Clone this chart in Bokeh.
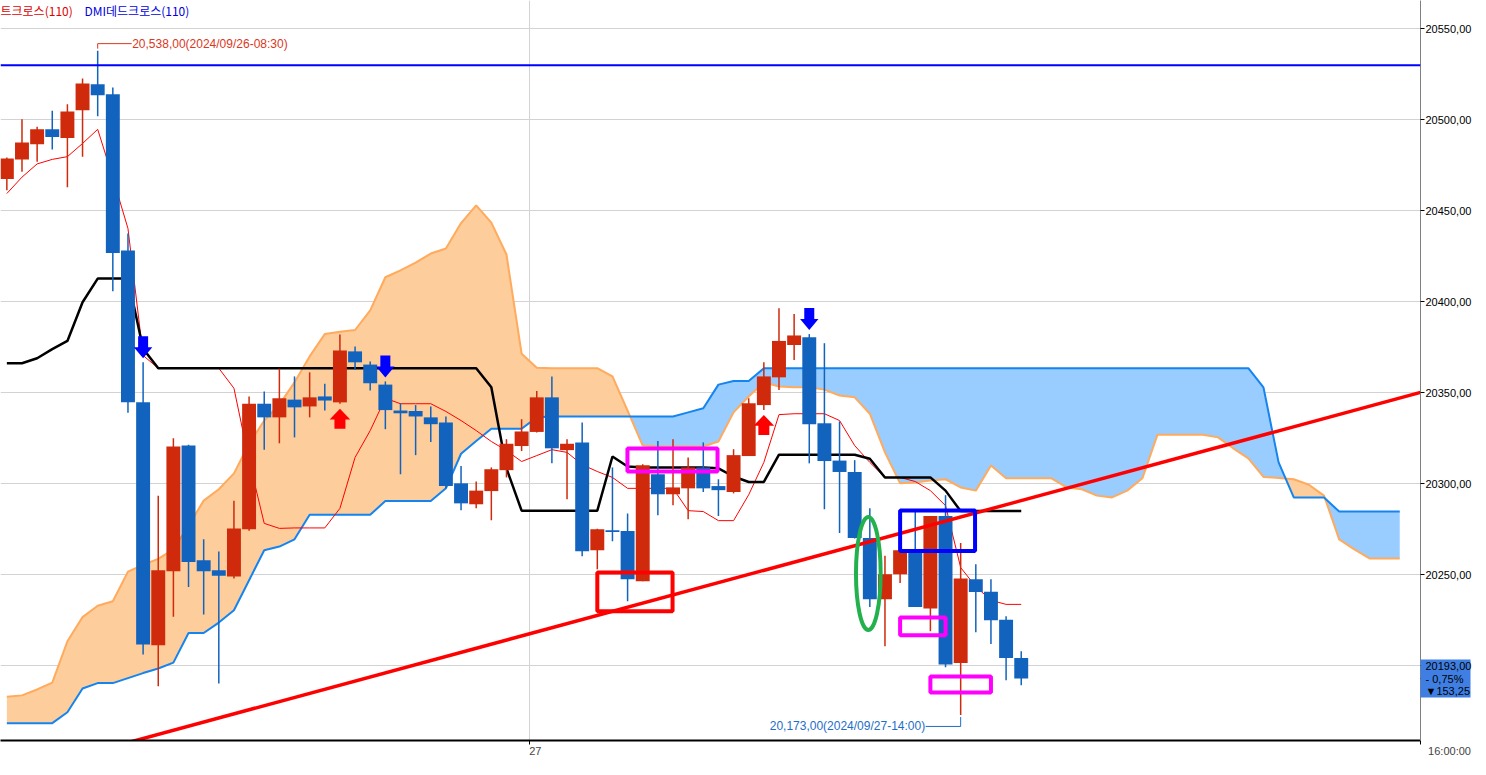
import numpy as np
from bokeh.plotting import figure
from bokeh.models import Range1d, FixedTicker, Label, Span, ColumnDataSource
from bokeh.embed import file_html
from bokeh.resources import INLINE

# ---------------- data (30-minute candles, index = bar number) ----------------
opens = [20467.5, 20478.25, 20486.5, 20494.75, 20490, 20505.25, 20519.5, 20514, 20428.25, 20344.75,
         20211.25, 20252, 20321, 20258, 20252.5, 20249, 20275, 20344, 20336.5, 20346.25,
         20342.5, 20348, 20344.75, 20372.75, 20365.5, 20354.5, 20340.25, 20340, 20336.5, 20333.75,
         20300.25, 20288.75, 20296, 20307.5, 20320.75, 20328.5, 20347.5, 20318.5, 20322.75, 20263.5,
         20274.5, 20274, 20246.5, 20305.25, 20294.25, 20297.5, 20309, 20298.75, 20295.5, 20315.25,
         20343.25, 20358.5, 20376.25, 20380.5, 20333.25, 20312.75, 20306.5, 20270.25, 20236.5, 20250.25,
         20262.5, 20231.5, 20282.25, 20201.5, 20247.5, 20240.75, 20225.25, 20204.25]
highs = [20479.25, 20500.25, 20496.25, 20505, 20508.5, 20522.75, 20538, 20517.75, 20437.5, 20366.75,
         20293.5, 20325, 20321.5, 20269.5, 20262.75, 20290.75, 20348, 20350.75, 20363.25, 20359,
         20361.25, 20355, 20382, 20375.5, 20367.25, 20356.25, 20344.25, 20343.25, 20342.5, 20337,
         20309.75, 20301.25, 20309, 20324.5, 20335.5, 20351, 20359, 20324.5, 20333.75, 20275.25,
         20309, 20283.75, 20310.75, 20323.5, 20324.5, 20314.5, 20322.75, 20302.5, 20319, 20347,
         20366.75, 20396.5, 20393.25, 20382.25, 20377.25, 20334.25, 20313, 20286.5, 20260.5, 20263.5,
         20284.5, 20282.25, 20293.75, 20267.5, 20255.75, 20247.5, 20227.25, 20208]
lows = [20461.25, 20471.5, 20477, 20483.75, 20463, 20479.75, 20502, 20405.75, 20339, 20206.25,
        20188.75, 20227, 20243.25, 20228.25, 20190.25, 20248, 20274.25, 20318.75, 20322.25, 20325.5,
        20336.5, 20340.25, 20344, 20362.5, 20351.25, 20330, 20305.25, 20315.75, 20323, 20297.5,
        20285.5, 20286.5, 20280, 20303.5, 20318, 20328.25, 20311.25, 20291.5, 20260.25, 20253,
        20268.5, 20235.5, 20246.5, 20282.75, 20288.25, 20280.5, 20295.5, 20282.25, 20294.75, 20315.25,
        20340.5, 20351.5, 20368, 20311.25, 20286, 20273, 20270, 20232.25, 20210.75, 20245.5,
        20232.25, 20219, 20199.25, 20173, 20218.5, 20212, 20192, 20189.25]
closes = [20478.75, 20487.5, 20494.75, 20490.5, 20504.5, 20520, 20513.5, 20426.75, 20344.75, 20211.75,
          20252.5, 20320.5, 20257, 20252, 20249.5, 20275.5, 20344, 20336.5, 20347, 20342,
          20347.5, 20345.75, 20373.25, 20366.75, 20355.25, 20340.5, 20338.75, 20337, 20332.75, 20298.75,
          20289.25, 20296.25, 20308, 20322, 20328.75, 20347.5, 20319.5, 20322, 20263, 20275,
          20273.5, 20247.5, 20310.25, 20294.25, 20298, 20309, 20297.5, 20296.5, 20315.75, 20344.25,
          20359, 20378.5, 20381.5, 20332.75, 20312.5, 20306.5, 20270.25, 20236.5, 20250.25, 20263.5,
          20232.25, 20282.25, 20200.75, 20248, 20240.5, 20225, 20204.25, 20193]

tenkan = [20459.5, 20468.5, 20475.75, 20478.25, 20479.75, 20487, 20494.75, 20468.25, 20440.25, 20370.5,
          20363.5, 20363.5, 20363.5, 20363.5, 20363.5, 20352.5, 20312.75, 20278.25, 20275.5, 20275.75,
          20275.75, 20275.75, 20286.5, 20314.5, 20329.25, 20347, 20344, 20344, 20344, 20339.75,
          20334.75, 20329.25, 20323.25, 20318.25, 20312.25, 20315.5, 20318.75, 20317.25, 20310.5, 20306.75,
          20303.5, 20297.5, 20297.5, 20297.5, 20297.5, 20285.25, 20284.75, 20279.75, 20279.75, 20294,
          20311.75, 20338, 20338.5, 20338.5, 20338.5, 20334.75, 20321, 20311.75, 20303.5, 20303.5,
          20301.25, 20296.25, 20288, 20254, 20243.5, 20236, 20233.75, 20233.75]
kijun = [20366.25, 20366.25, 20369, 20374, 20378.5, 20399.75, 20412.75, 20412.75, 20412.75, 20374.25,
         20363.5, 20363.5, 20363.5, 20363.5, 20363.5, 20363.5, 20363.5, 20363.5, 20363.5, 20363.5,
         20363.5, 20363.5, 20363.5, 20363.5, 20363.5, 20363.5, 20363.5, 20363.5, 20363.5, 20363.5,
         20363.5, 20363.5, 20353, 20308.5, 20285.25, 20285.25, 20285.25, 20285.25, 20285.25, 20285.25,
         20315, 20309.5, 20309, 20309, 20309, 20309, 20309, 20308.5, 20304, 20301,
         20301, 20316, 20316, 20316, 20316, 20316, 20316, 20313.75, 20303.5, 20303.5,
         20303.5, 20303.5, 20296.25, 20285, 20285, 20285, 20285, 20285]
# leading spans (cloud), bars 0..92
span_a = [20168.5, 20168.5, 20168.5, 20168.5, 20174.5, 20187.5, 20190.5, 20190.5, 20193.25, 20196,
          20198.5, 20201.75, 20218, 20218, 20223.75, 20230.5, 20247, 20263.5, 20265.5, 20269.5,
          20283, 20283, 20283, 20283, 20283, 20290.5, 20290.5, 20290.5, 20290.5, 20297.5,
          20316.5, 20323.5, 20330.25, 20330.25, 20330.25, 20336.5, 20337, 20337, 20337, 20337,
          20337, 20337, 20337, 20337, 20337, 20339.25, 20341.5, 20354.5, 20356.5, 20356.5,
          20363.5, 20363.5, 20363.5, 20363.5, 20363.5, 20363.5, 20363.5, 20363.5, 20363.5, 20363.5,
          20363.5, 20363.5, 20363.5, 20363.5, 20363.5, 20363.5, 20363.5, 20363.5, 20363.5, 20363.5,
          20363.5, 20363.5, 20363.5, 20363.5, 20363.5, 20363.5, 20363.5, 20363.5, 20363.5, 20363.5,
          20363.5, 20363.5, 20363.5, 20353, 20311.75, 20292.5, 20292.5, 20292.5, 20284.75, 20284.75,
          20284.75, 20284.75, 20284.75]
span_b = [20183, 20183.75, 20187, 20190.75, 20213.5, 20226.75, 20233, 20235.5, 20251.75, 20255.5,
          20258.75, 20264, 20277, 20290.75, 20297, 20305.75, 20322, 20334.75, 20343.5, 20355.75,
          20370, 20382.25, 20383.5, 20384.5, 20395.25, 20413.5, 20417.25, 20421.5, 20426.5, 20429.25,
          20443.25, 20453, 20443.5, 20426, 20371.5, 20363.75, 20363.5, 20363.5, 20363.5, 20363.5,
          20359, 20340.25, 20321, 20320.5, 20320.5, 20320.5, 20320.5, 20323.25, 20339.25, 20348,
          20355.75, 20353.5, 20353, 20353, 20351.75, 20348.5, 20347.5, 20338.5, 20317.25, 20300.25,
          20300.75, 20301.75, 20302.5, 20298, 20296.25, 20310, 20303, 20303, 20303, 20303,
          20298, 20297, 20293.5, 20292.5, 20296.25, 20303, 20327, 20327, 20327, 20327,
          20325.5, 20319.5, 20314, 20303.75, 20303.25, 20302.5, 20299.5, 20293.5, 20269.5, 20264,
          20259, 20259, 20259]

y_ticks = [20200, 20250, 20300, 20350, 20400, 20450, 20500, 20550]
day_boundary = 34.5
day_label = "27"
time_label = "16:00:00"
resistance_level = 20530
trend_x = [6.09, 93.9]
trend_y = [20153.5, 20351.4]
sell_signals = [9, 25, 53]
buy_signals = [22, 50]

box_left = [40.99, 39.0, 59.0, 59.0, 61.0]
box_right = [46.94, 43.97, 63.95, 62.0, 65.0]
box_top = [20319.4, 20251.3, 20285.3, 20226.5, 20194.1]
box_bottom = [20306.8, 20230.0, 20263.1, 20216.8, 20185.3]
box_color = ["#FF00FF", "#FF0000", "#0000FF", "#FF00FF", "#FF00FF"]
ell_x, ell_y, ell_w, ell_h = [56.9], [20250.7], [1.63], [62.1]

hi_text = "20,538,00(2024/09/26-08:30)"
lo_text = "20,173,00(2024/09/27-14:00)"
legend_a = "트크로스(110)"
legend_b = "DMI데드크로스(110)"
tag_lines = ["20193,00", "- 0,75%", "\u25bc153,25"]

# ---------------- layout / style ----------------
FRAME_W, FRAME_H = 1420, 740
BAR_PX, PRICE_PX = 15.14, 1.82          # pixels per bar / per point
X_START = -6.35 / BAR_PX
X_END = X_START + FRAME_W / BAR_PX
Y_END = 20550 + 28.3 / PRICE_PX
Y_START = Y_END - FRAME_H / PRICE_PX
PXX, PXY = 1 / BAR_PX, 1 / PRICE_PX
RED, BLUE = "#CF2A0B", "#1263BE"
FONT = "Liberation Sans"
TAG_W = 50
NB = "\u00a0"

p = figure(frame_width=FRAME_W, frame_height=FRAME_H,
           x_range=Range1d(X_START, X_END), y_range=Range1d(Y_START, Y_END),
           output_backend="svg", toolbar_location=None, y_axis_location="right",
           min_border_left=0, min_border_top=0, min_border_right=48, min_border_bottom=17)
p.outline_line_color = None
p.background_fill_color = "white"
p.border_fill_color = "white"

# right price axis (price tag drawn as a wide minor tick at the last close)
last_close = closes[-1]
yax = p.yaxis[0]
yax.ticker = FixedTicker(ticks=y_ticks + [last_close], minor_ticks=[last_close])
overrides = {t: f"{t},00" for t in y_ticks}
overrides[20200] = ""
overrides[last_close] = "\n".join(tag_lines)
yax.major_label_overrides = overrides
yax.axis_line_color = "#808080"
yax.major_tick_out, yax.major_tick_in = 4, 0
yax.minor_tick_out, yax.minor_tick_in = TAG_W, 0
yax.minor_tick_line_width = 38
yax.minor_tick_line_color = "#3F7FE3"
yax.major_label_standoff = 5 - TAG_W
yax.major_label_text_font = FONT
yax.major_label_text_font_size = "11px"
yax.major_label_text_color = "black"
yax.major_label_text_line_height = 1.05

# time axis
x_last = round(X_END - 0.001, 3)
xax = p.xaxis[0]
xax.ticker = FixedTicker(ticks=[day_boundary, x_last])
xax.major_label_overrides = {day_boundary: NB * 4 + day_label, x_last: NB * 19 + time_label}
xax.axis_line_color = "black"
xax.axis_line_width = 2
xax.major_tick_out, xax.major_tick_in = 4, 0
xax.minor_tick_line_color = None
xax.major_label_standoff = 0
xax.major_label_text_font = FONT
xax.major_label_text_font_size = "11px"

p.ygrid.ticker = FixedTicker(ticks=y_ticks)
p.ygrid.grid_line_color = "#D3D3D3"
p.xgrid.ticker = FixedTicker(ticks=[day_boundary])
p.xgrid.grid_line_color = "#D3D3D3"

# cloud fills (crossing points added so the two colours meet exactly)
cx = np.arange(len(span_a), dtype=float)
A = np.array(span_a, float)
B = np.array(span_b, float)
X2, A2, B2 = [], [], []
for k in range(len(cx)):
    if k > 0:
        d0, d1 = A[k - 1] - B[k - 1], A[k] - B[k]
        if d0 * d1 < 0:
            t = d0 / (d0 - d1)
            yc = A[k - 1] + t * (A[k] - A[k - 1])
            X2.append(cx[k - 1] + t); A2.append(yc); B2.append(yc)
    X2.append(cx[k]); A2.append(A[k]); B2.append(B[k])
X2, A2, B2 = np.array(X2), np.array(A2), np.array(B2)
p.varea(x=X2, y1=A2, y2=np.maximum(A2, B2), fill_color="#FDCD9B")
p.varea(x=X2, y1=B2, y2=np.maximum(A2, B2), fill_color="#99CCFF")
p.line(cx, B, line_color="#FFAA5C", line_width=2)
p.line(cx, A, line_color="#1484F0", line_width=2)

# conversion & base lines
bx = np.arange(len(opens))
p.line(bx, tenkan, line_color="#FF0000", line_width=1)
p.line(bx, kijun, line_color="black", line_width=2.5)

# candles
o, h, l, c = (np.array(v, float) for v in (opens, highs, lows, closes))
cols = np.where(c >= o, RED, BLUE)
src = ColumnDataSource(dict(x=bx, h=h, l=l, top=np.maximum(o, c), bottom=np.minimum(o, c), color=cols))
p.segment(x0="x", y0="h", x1="x", y1="l", line_color="color", line_width=1.5, source=src)
p.vbar(x="x", width=0.92, top="top", bottom="bottom", fill_color="color", line_color=None, source=src)

# trend line and resistance
p.line(trend_x, trend_y, line_color="#FF0000", line_width=3.5)
p.add_layout(Span(location=resistance_level, dimension="width", line_color="#0000FF", line_width=2))

# marked boxes and ellipse
p.quad(left=box_left, right=box_right, top=box_top, bottom=box_bottom, fill_alpha=0,
       line_color=box_color, line_width=4)
p.ellipse(x=ell_x, y=ell_y, width=ell_w, height=ell_h, fill_alpha=0, line_color="#22B14C", line_width=4)

# signal arrows
down_shape = [(-5, 22), (5, 22), (5, 11), (9.2, 11), (0, 0), (-9.2, 11), (-5, 11)]
up_shape = [(0, 0), (10.3, -10.7), (5.5, -10.7), (5.5, -20), (-5.5, -20), (-5.5, -10.7), (-10.3, -10.7)]
dxs, dys = [], []
for i in sell_signals:
    tip = h[i] + 4 * PXY
    dxs.append([i + sx * PXX for sx, sy in down_shape])
    dys.append([tip + sy * PXY for sx, sy in down_shape])
p.patches(dxs, dys, fill_color="#0000FF", line_color=None)
uxs, uys = [], []
for i in buy_signals:
    tip = l[i] - 5 * PXY
    uxs.append([i + sx * PXX for sx, sy in up_shape])
    uys.append([tip + sy * PXY for sx, sy in up_shape])
p.patches(uxs, uys, fill_color="#FF0000", line_color=None)

# high / low annotations
hi_i = int(np.argmax(h)); hi_v = h[hi_i]
yc = hi_v + 7 * PXY
p.segment(x0=[hi_i, hi_i], y0=[hi_v + 2 * PXY, yc], x1=[hi_i, hi_i + 34 * PXX], y1=[yc, yc],
          line_color="#D9381E", line_width=1)
p.add_layout(Label(x=hi_i + 34.5 * PXX, y=yc, text=hi_text, text_font=FONT, text_font_size="12px",
                   text_color="#D9381E", text_baseline="middle", text_align="left"))
lo_i = int(np.argmin(l)); lo_v = l[lo_i]
yl = lo_v - 11.5 * PXY
p.segment(x0=[lo_i, lo_i], y0=[lo_v - 2 * PXY, yl], x1=[lo_i, lo_i - 35 * PXX], y1=[yl, yl],
          line_color="#1E6EC8", line_width=1)
p.add_layout(Label(x=lo_i - 35.5 * PXX, y=yl, text=lo_text, text_font=FONT, text_font_size="12px",
                   text_color="#1E6EC8", text_baseline="middle", text_align="right"))

# legend text at top-left
p.add_layout(Label(x=X_START, y=Y_END - 1 * PXY, text=legend_a, text_font="Noto Sans CJK KR",
                   text_font_size="12px", text_color="#E00000", text_baseline="top", text_align="left"))
p.add_layout(Label(x=X_START + 84 * PXX, y=Y_END - 1 * PXY, text=legend_b, text_font="Noto Sans CJK KR",
                   text_font_size="12px", text_color="#0000E0", text_baseline="top", text_align="left"))

open("out.html", "w").write(file_html(p, INLINE))
